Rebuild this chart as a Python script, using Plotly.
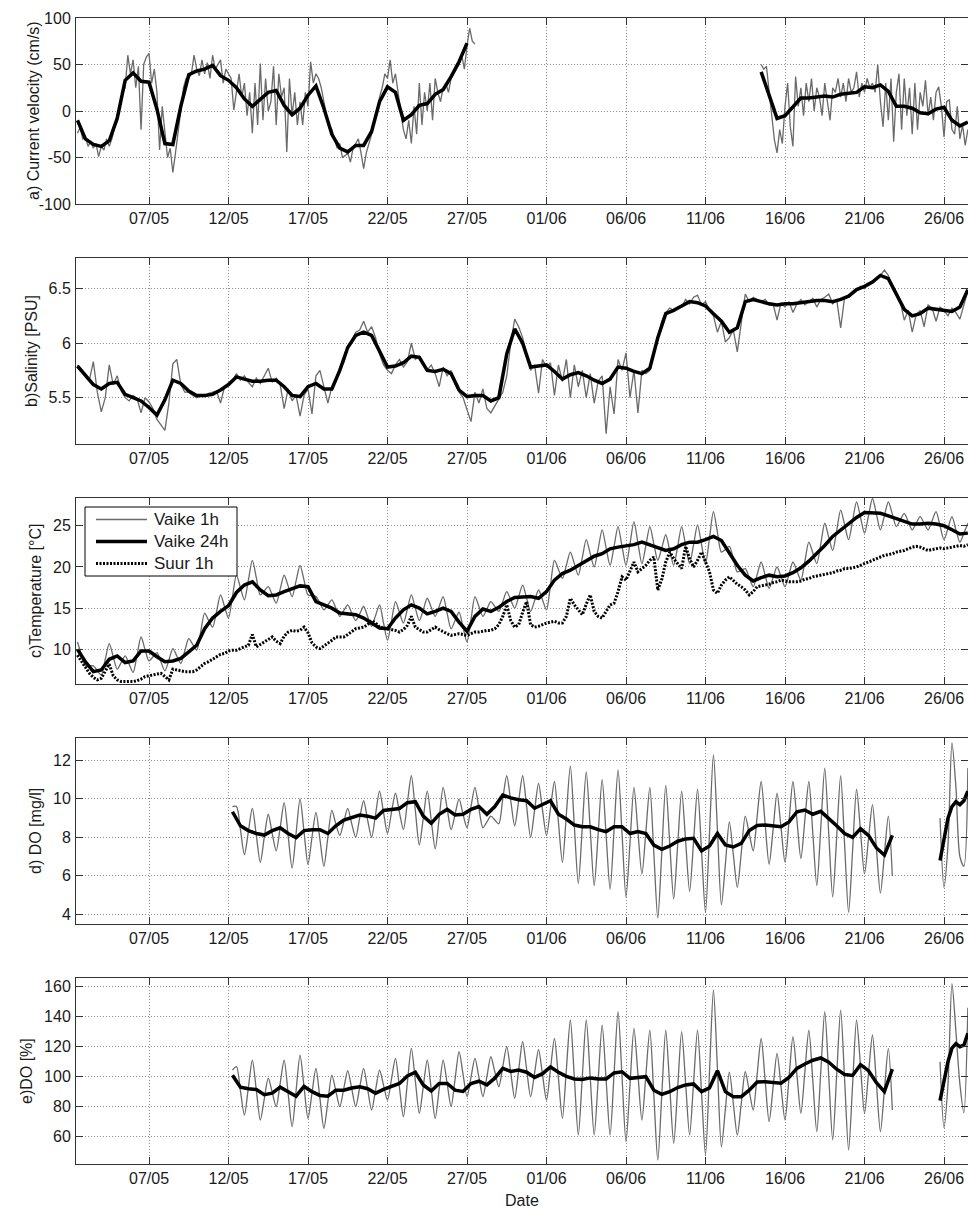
import pandas as pd
import plotly.graph_objects as go

# ---------------------------------------------------------------------------
# Shared time axis
# ---------------------------------------------------------------------------
x_range = ['2013-05-02 09:49', '2013-06-27 12:13']
tick_dates = ['2013-05-07', '2013-05-12', '2013-05-17', '2013-05-22', '2013-05-27',
              '2013-06-01', '2013-06-06', '2013-06-11', '2013-06-16', '2013-06-21',
              '2013-06-26']
tick_labels = ['07/05', '12/05', '17/05', '22/05', '27/05', '01/06', '06/06',
               '11/06', '16/06', '21/06', '26/06']

# ---------------------------------------------------------------------------
# a) Current velocity (cm/s) -- hourly record sampled every 4 h, daily mean every 12 h
# ---------------------------------------------------------------------------
cur_1h_may_start = '2013-05-02 12:00'
cur_1h_may = [
    -24, -18, -30, -28, -38, -33,
    -40, -35, -49, -38, -42, -30,
    -38, -30, -18, -8, 8, 20,
    25, 60, 40, 55, 25, 48,
    -20, 50, 58, 62, 30, 45,
    20, -42, 5, -25, -50, -40,
    -66, -45, -25, 0, 25, 35,
    35, 40, 60, 45, 38, 55,
    40, 52, 35, 60, 45, 50,
    55, 30, 45, 40, 35, 1,
    20, 40, 15, 30, -5, 20,
    -24, 30, -15, 51, -10, 35,
    0, 10, 48, -15, 40, 15,
    25, -44, 35, -5, 20, -15,
    10, -15, 20, 5, 53, 30,
    40, 35, 25, 10, -5, -15,
    -20, -30, -40, -35, -50, -48,
    -45, -55, -40, -35, -30, -45,
    -62, -45, -35, -25, -10, 0,
    15, 25, 40, 35, 55, 30,
    40, 20, 5, -20, -30, -10,
    -35, 5, -25, 30, -15, 20,
    0, 30, -10, 35, 20, 10,
    25, 30, 20, 35, 40, 45,
    50, 60, 45, 70, 89, 75,
    72,
]
cur_1h_jun_start = '2013-06-14 12:00'
cur_1h_jun = [
    50, 45, 48, 20, -10, -31,
    -45, -20, -35, 5, 30, -17,
    -38, 37, 5, 25, -5, 30,
    10, 35, 0, 25, 15, -5,
    30, 10, -10, 25, 20, 35,
    15, 30, 10, 35, 20, 25,
    42, 15, 30, 20, 35, 25,
    30, 20, 50, 10, -17, 30,
    -10, 35, -33, 20, 40, -20,
    35, -5, 25, -25, 30, -20,
    20, 5, 33, -5, 15, -10,
    20, 26, 5, -28, 10, 12,
    -20, -25, 5, -30, -15, -37,
    -20,
]
cur_24h_may = [-10, -30, -36, -38, -32, -8, 33, 41, 32, 31, 2, -35, -36, 5, 39,
               43, 45, 49, 38, 33, 25, 13, 5, 12, 20, 22, 6, -4, 3, 17, 27, 3,
               -25, -40, -44, -37, -37, -22, 10, 26, 20, -10, -4, 6, 8, 18, 23,
               37, 53, 73]
cur_24h_jun = [42, 17, -8, -5, 4, 14, 14, 15, 16, 15, 18, 19, 20, 26, 25, 28, 21,
               5, 5, 3, -2, -3, 2, 4, -10, -16, -12]

# ---------------------------------------------------------------------------
# b) Salinity [PSU] -- hourly record every 6 h, daily mean every 12 h
# ---------------------------------------------------------------------------
full_start = '2013-05-02 12:00'
sal_1h = [
    5.80, 5.74, 5.70, 5.66, 5.83, 5.55, 5.37, 5.50, 5.80, 5.62, 5.70, 5.56,
    5.50, 5.47, 5.52, 5.49, 5.36, 5.50, 5.46, 5.40, 5.30, 5.25, 5.20, 5.45,
    5.81, 5.85, 5.62, 5.55, 5.55, 5.52, 5.50, 5.52, 5.51, 5.54, 5.55, 5.56,
    5.45, 5.60, 5.62, 5.65, 5.72, 5.66, 5.70, 5.64, 5.60, 5.68, 5.63, 5.70,
    5.77, 5.64, 5.68, 5.62, 5.40, 5.58, 5.47, 5.52, 5.33, 5.52, 5.58, 5.35,
    5.70, 5.75, 5.60, 5.45, 5.60, 5.65, 5.78, 5.82, 5.95, 6.02, 6.10, 6.12,
    6.20, 6.10, 6.15, 6.05, 5.90, 5.80, 5.75, 5.72, 5.80, 5.85, 5.78, 5.83,
    6.00, 5.85, 5.88, 5.82, 5.75, 5.80, 5.72, 5.60, 5.78, 5.70, 5.75, 5.62,
    5.55, 5.50, 5.40, 5.28, 5.55, 5.45, 5.58, 5.40, 5.36, 5.42, 5.48, 5.55,
    5.70, 6.00, 6.22, 6.15, 6.05, 5.90, 5.75, 5.80, 5.54, 5.85, 5.78, 5.82,
    5.52, 5.80, 5.65, 5.85, 5.50, 5.80, 5.60, 5.75, 5.50, 5.72, 5.45, 5.65,
    5.70, 5.17, 5.60, 5.35, 5.85, 5.75, 5.91, 5.50, 5.75, 5.36, 5.75, 5.72,
    5.75, 5.90, 6.06, 6.20, 6.28, 6.32, 6.30, 6.33, 6.33, 6.40, 6.36, 6.42,
    6.44, 6.35, 6.38, 6.30, 6.25, 6.10, 6.20, 6.01, 6.05, 6.12, 5.92, 6.20,
    6.45, 6.38, 6.42, 6.40, 6.38, 6.40, 6.35, 6.36, 6.21, 6.37, 6.33, 6.38,
    6.28, 6.36, 6.40, 6.35, 6.38, 6.41, 6.33, 6.40, 6.42, 6.45, 6.36, 6.40,
    6.14, 6.42, 6.43, 6.45, 6.48, 6.52, 6.50, 6.55, 6.56, 6.60, 6.62, 6.67,
    6.62, 6.50, 6.45, 6.38, 6.21, 6.30, 6.10, 6.26, 6.30, 6.15, 6.35, 6.32,
    6.20, 6.33, 6.30, 6.25, 6.32, 6.28, 6.22, 6.35, 6.48,
]
sal_24h = [
    5.79, 5.70, 5.62, 5.58, 5.63, 5.64, 5.53, 5.50, 5.47, 5.41, 5.34, 5.48,
    5.66, 5.63, 5.56, 5.52, 5.52, 5.53, 5.57, 5.62, 5.69, 5.67, 5.65, 5.65,
    5.66, 5.66, 5.60, 5.52, 5.51, 5.60, 5.63, 5.58, 5.58, 5.75, 5.96, 6.07,
    6.10, 6.07, 5.92, 5.78, 5.79, 5.82, 5.88, 5.87, 5.75, 5.74, 5.76, 5.72,
    5.57, 5.51, 5.52, 5.52, 5.47, 5.50, 5.90, 6.13, 6.00, 5.78, 5.79, 5.80,
    5.74, 5.67, 5.71, 5.73, 5.70, 5.66, 5.63, 5.67, 5.78, 5.77, 5.74, 5.72,
    5.77, 6.05, 6.27, 6.30, 6.34, 6.38, 6.37, 6.34, 6.27, 6.20, 6.10, 6.14,
    6.38, 6.40, 6.38, 6.36, 6.35, 6.36, 6.36, 6.37, 6.38, 6.39, 6.39, 6.38,
    6.40, 6.43, 6.49, 6.52, 6.56, 6.62, 6.59, 6.45, 6.31, 6.25, 6.27, 6.32,
    6.31, 6.30, 6.29, 6.33, 6.49,
]

# ---------------------------------------------------------------------------
# c) Temperature [°C]
# ---------------------------------------------------------------------------
vaike_1h = [
    10.9, 9.4, 8.0, 8.0, 8.0, 7.4, 6.9, 8.8, 10.7, 9.1, 7.6, 8.4,
    9.2, 8.2, 7.2, 9.3, 11.5, 10.0, 8.6, 9.1, 9.6, 8.5, 7.4, 8.7,
    10.1, 9.2, 8.3, 9.8, 11.3, 10.6, 9.9, 12.1, 14.4, 13.5, 12.7, 14.6,
    16.6, 15.2, 13.8, 16.4, 19.0, 17.5, 16.0, 18.4, 20.8, 18.7, 16.6, 17.1,
    17.6, 16.6, 15.6, 17.3, 19.0, 17.7, 16.4, 18.3, 20.2, 18.4, 16.6, 16.5,
    16.4, 15.6, 14.8, 15.4, 16.0, 15.0, 14.0, 14.7, 15.4, 14.4, 13.5, 14.3,
    15.2, 14.0, 12.8, 14.1, 15.4, 13.2, 11.1, 13.4, 15.8, 14.5, 13.2, 14.9,
    16.6, 15.0, 13.5, 14.8, 16.2, 15.1, 14.0, 15.2, 16.4, 14.4, 12.5, 13.5,
    14.5, 12.7, 10.9, 13.6, 16.4, 15.2, 14.0, 14.9, 15.8, 15.2, 14.6, 15.8,
    17.0, 16.0, 15.0, 16.4, 17.8, 16.2, 14.6, 15.9, 17.2, 16.0, 14.8, 17.8,
    20.8, 19.7, 18.6, 20.2, 21.8, 20.4, 19.0, 21.1, 23.3, 21.6, 20.0, 22.2,
    24.5, 22.3, 20.2, 22.5, 24.9, 22.5, 20.2, 22.8, 25.5, 22.9, 20.4, 22.6,
    24.9, 22.8, 20.8, 22.3, 23.9, 22.0, 20.2, 22.5, 24.9, 22.6, 20.4, 22.7,
    25.1, 22.7, 20.4, 23.5, 26.7, 24.2, 21.8, 22.1, 22.5, 21.0, 19.4, 19.6,
    19.8, 18.7, 17.6, 19.1, 20.6, 19.0, 17.4, 18.7, 20.0, 18.8, 17.6, 19.1,
    20.6, 19.5, 18.4, 20.7, 23.0, 21.7, 20.4, 22.8, 25.3, 23.6, 22.0, 24.4,
    26.9, 25.1, 23.3, 25.6, 27.9, 26.0, 24.1, 26.2, 28.3, 26.4, 24.5, 26.2,
    27.9, 26.4, 24.9, 25.7, 26.5, 25.5, 24.5, 25.3, 26.1, 25.3, 24.5, 25.6,
    26.7, 25.0, 23.3, 24.7, 26.1, 24.5, 23.0, 24.1, 25.3,
]
vaike_24h = [
    10.0, 8.5, 7.3, 7.5, 8.8, 9.2, 8.4, 8.6, 9.8, 9.8, 9.1, 8.5,
    8.6, 8.9, 9.7, 10.5, 12.5, 13.8, 14.6, 15.3, 16.9, 17.8, 18.2, 17.2,
    16.5, 16.6, 17.0, 17.4, 17.7, 17.6, 15.8, 15.4, 15.0, 14.4, 14.3, 14.2,
    13.8, 13.2, 12.6, 12.5, 13.8, 14.8, 15.4, 15.0, 14.3, 14.6, 15.0, 14.6,
    13.3, 12.2, 14.0, 14.9, 14.6, 15.1, 15.8, 16.3, 16.4, 16.4, 16.2, 17.0,
    18.4, 19.2, 19.6, 20.2, 20.8, 21.3, 21.6, 22.2, 22.4, 22.5, 22.7, 23.0,
    22.7, 22.4, 22.0, 22.2, 22.7, 23.0, 23.0, 23.3, 23.7, 23.2, 21.6, 20.2,
    19.0, 18.3, 18.7, 19.0, 18.8, 18.9, 19.3, 19.9, 20.7, 21.6, 22.6, 23.7,
    24.5, 25.3, 26.0, 26.6, 26.6, 26.5, 26.2, 25.9, 25.6, 25.2, 25.2, 25.3,
    25.2, 25.0, 24.5, 24.0, 24.1,
]
suur_1h = [
    9.3, 8.6, 7.8, 7.1, 6.6, 6.3, 6.5, 7.3, 8.2, 6.8, 6.3, 6.1,
    6.1, 6.1, 6.1, 6.2, 6.4, 6.7, 6.8, 6.9, 7.0, 7.1, 6.7, 6.3,
    7.6, 7.5, 7.4, 7.3, 7.3, 7.3, 7.5, 7.9, 8.3, 8.5, 8.8, 9.2,
    9.4, 9.5, 9.8, 9.9, 9.9, 10.1, 10.3, 10.5, 11.8, 10.3, 10.6, 10.9,
    11.2, 11.5, 11.0, 10.7, 11.6, 12.1, 12.3, 12.2, 12.3, 12.7, 12.0, 10.8,
    10.3, 10.1, 10.4, 10.7, 11.1, 11.5, 11.5, 11.5, 11.8, 12.1, 12.5, 12.6,
    12.7, 13.0, 13.5, 13.2, 12.7, 12.6, 12.5, 12.4, 12.3, 12.1, 12.4, 12.9,
    14.0, 12.7, 12.4, 12.1, 12.1, 12.4, 12.7, 12.4, 12.1, 11.9, 11.7, 11.8,
    11.9, 11.8, 11.7, 11.9, 12.1, 12.1, 12.2, 12.3, 12.3, 12.5, 13.0, 14.0,
    15.4, 13.5, 12.7, 13.0, 14.5, 15.8, 13.0, 12.7, 12.8, 13.0, 13.2, 13.3,
    13.4, 13.2, 13.2, 14.0, 16.2, 15.4, 14.8, 14.2, 15.5, 16.6, 14.6, 14.0,
    13.8, 14.6, 15.4, 15.6, 17.0, 18.8, 18.4, 19.5, 20.6, 19.4, 19.8, 20.2,
    20.8, 21.2, 17.2, 18.5, 20.6, 21.8, 21.0, 20.4, 19.8, 22.5, 21.0, 20.0,
    20.8, 21.8, 20.5, 19.4, 17.2, 16.8, 17.8, 18.4, 18.8, 18.3, 17.9, 17.6,
    17.2, 16.6, 17.0, 17.6, 17.7, 17.8, 17.9, 18.1, 18.2, 18.4, 18.3, 18.2,
    18.2, 18.2, 18.3, 18.5, 18.6, 18.8, 18.9, 19.0, 19.1, 19.2, 19.3, 19.5,
    19.6, 19.8, 19.8, 19.9, 20.0, 20.2, 20.4, 20.6, 20.8, 21.0, 21.2, 21.4,
    21.5, 21.6, 21.8, 21.9, 22.0, 22.2, 22.4, 22.5, 22.4, 22.2, 22.0, 22.1,
    22.2, 22.3, 22.2, 22.3, 22.4, 22.5, 22.6, 22.5, 22.7,
]

# ---------------------------------------------------------------------------
# d) DO [mg/l] and e) DO [%] -- two deployments
# ---------------------------------------------------------------------------
do_start = '2013-05-12 06:00'
do_late_start = '2013-06-25 18:00'
do_mg_1h = [
    9.6,
    9.6, 8.4, 7.1, 8.3, 9.5, 8.1, 6.7, 8.0, 9.2, 8.2, 7.3, 8.5,
    9.8, 8.1, 6.4, 8.2, 10.0, 8.3, 6.6, 8.0, 9.3, 7.9, 6.5, 8.0,
    9.4, 8.7, 8.1, 8.8, 9.5, 8.7, 8.0, 9.0, 9.9, 8.9, 8.0, 9.2,
    10.4, 9.3, 8.2, 9.3, 10.3, 9.3, 8.4, 9.8, 11.2, 9.4, 7.6, 9.0,
    10.4, 8.9, 7.4, 9.0, 10.6, 9.5, 8.4, 9.2, 10.0, 9.2, 8.5, 9.6,
    10.6, 9.5, 8.5, 8.8, 9.1, 8.9, 8.7, 10.0, 11.2, 9.9, 8.6, 9.9,
    11.2, 9.6, 8.0, 9.4, 10.8, 9.4, 8.1, 9.5, 10.9, 8.8, 6.7, 9.2,
    11.7, 8.6, 5.6, 8.5, 11.4, 8.4, 5.5, 8.2, 11.0, 8.1, 5.3, 8.4,
    11.5, 8.2, 4.9, 7.7, 10.6, 8.3, 6.1, 8.3, 10.6, 7.2, 3.8, 7.2,
    10.7, 7.7, 4.8, 7.6, 10.4, 7.8, 5.2, 7.8, 10.5, 7.3, 4.1, 8.2,
    12.3, 8.4, 4.5, 6.6, 8.8, 7.1, 5.4, 7.2, 9.1, 8.2, 7.3, 9.1,
    10.9, 8.7, 6.6, 8.4, 10.3, 8.5, 6.7, 8.8, 10.9, 8.9, 6.9, 8.9,
    10.9, 8.2, 5.5, 8.5, 11.6, 8.2, 4.9, 8.0, 11.2, 7.6, 4.1, 7.3,
    10.5, 8.3, 6.1, 7.9, 9.7, 7.4, 5.1, 7.1, 9.1, 6.0,
]
do_mg_24h = [
    9.33, 8.6, 8.35, 8.2, 8.12, 8.35, 8.5, 8.2, 7.98, 8.35, 8.4, 8.4,
    8.2, 8.6, 8.9, 9.05, 9.16, 9.1, 9.0, 9.4, 9.45, 9.5, 9.8, 9.85,
    9.1, 8.73, 9.2, 9.45, 9.16, 9.2, 9.45, 9.6, 9.2, 9.6, 10.2, 10.05,
    9.95, 9.9, 9.51, 9.7, 9.9, 9.2, 8.95, 8.64, 8.55, 8.55, 8.4, 8.3,
    8.55, 8.55, 8.2, 8.3, 8.2, 7.6, 7.38, 7.55, 7.8, 7.92, 7.95, 7.3,
    7.55, 8.2, 7.6, 7.5, 7.69, 8.35, 8.62, 8.64, 8.6, 8.55, 8.8, 9.33,
    9.42, 9.2, 9.35, 9.0, 8.6, 8.2, 8.0, 8.45, 8.1, 7.45, 7.08, 8.1,
]
do_mg_1h_late = [9.0, 5.4, 7.6, 12.9, 10.6, 7.0, 6.5, 11.6]
do_mg_24h_late = [6.8, 7.9, 9.0, 9.6, 9.85, 9.7, 9.9, 10.4]

do_pct_1h = [
    104.4,
    106.7, 90.5, 74.4, 92.8, 111.1, 91.1, 71.1, 85.1, 99.0, 89.5, 80.0, 95.6,
    111.1, 88.9, 66.7, 90.6, 114.4, 93.3, 72.2, 88.9, 105.6, 85.6, 65.6, 83.4,
    101.1, 90.6, 80.0, 92.0, 104.0, 92.0, 80.0, 92.8, 105.6, 91.7, 77.8, 91.1,
    104.4, 94.4, 84.4, 98.3, 112.2, 92.8, 73.3, 96.1, 118.9, 97.3, 75.6, 93.4,
    111.1, 91.7, 72.2, 91.7, 111.1, 95.6, 80.0, 98.4, 116.7, 101.7, 86.7, 99.5,
    112.2, 99.5, 86.7, 100.0, 113.3, 103.3, 93.3, 106.7, 120.0, 102.8, 85.6, 104.5,
    123.3, 105.0, 86.7, 102.4, 118.0, 101.2, 84.4, 105.0, 125.6, 98.9, 72.2, 105.0,
    137.8, 99.5, 61.1, 99.5, 137.8, 99.5, 61.1, 97.8, 134.4, 97.8, 61.1, 102.2,
    143.3, 100.0, 56.7, 94.5, 132.2, 101.7, 71.1, 101.1, 131.1, 87.8, 44.4, 87.8,
    131.1, 93.4, 55.6, 92.8, 130.0, 95.6, 61.1, 96.1, 131.1, 89.5, 47.8, 102.8,
    157.8, 105.6, 53.3, 78.2, 103.0, 82.1, 61.1, 82.2, 103.3, 90.6, 77.8, 101.7,
    125.6, 97.8, 70.0, 92.8, 115.6, 93.4, 71.1, 98.9, 126.7, 101.2, 75.6, 103.4,
    131.1, 97.2, 63.3, 103.3, 143.3, 100.6, 57.8, 101.1, 144.4, 97.8, 51.1, 94.5,
    137.8, 106.7, 75.6, 101.7, 127.8, 95.6, 63.3, 91.1, 118.9, 77.8,
]
do_pct_24h = [
    101, 93, 92, 91.5, 88, 89, 93, 90, 87, 93.5, 90, 87.5,
    87, 91, 91, 92.5, 93.3, 92, 89, 91.5, 93.8, 95.5, 100.5, 103,
    94.5, 90.5, 95.5, 95.5, 91, 90.2, 95.5, 97, 94.5, 99, 105.5, 103.5,
    104.5, 103, 99.5, 102, 106.5, 103, 100.2, 98.5, 98.2, 99.2, 98.5, 98.5,
    102.5, 103.3, 98.9, 99.5, 100, 91, 88.2, 90, 92.8, 94.5, 95.2, 90,
    92.5, 104, 90, 86.7, 86.7, 91, 96.5, 96.7, 96.4, 95.7, 99.5, 105.5,
    108.5, 111, 112.5, 109.6, 105, 101.5, 100.8, 108, 104, 96, 90, 105,
]
do_pct_1h_late = [110, 66, 95, 162, 130, 95, 76, 146]
do_pct_24h_late = [84, 96, 110, 119, 122, 120, 121, 129]

# ---------------------------------------------------------------------------
# Panel set-up
# ---------------------------------------------------------------------------
panel_titles = ['a) Current velocity (cm/s)', 'b)Salinity [PSU]', 'c)Temperature [°C]',
                'd) DO [mg/l]', 'e)DO [%]']
panel_ranges = [[-100, 100], [5.075, 6.78], [5.8, 28.36], [3.5, 13.16], [41.8, 165.8]]
panel_ticks = [[-100, -50, 0, 50, 100], [5.5, 6, 6.5], [10, 15, 20, 25],
               [4, 6, 8, 10, 12], [60, 80, 100, 120, 140, 160]]
panel_tick_text = [['-100', '-50', '0', '50', '100'], ['5.5', '6', '6.5'],
                   ['10', '15', '20', '25'], ['4', '6', '8', '10', '12'],
                   ['60', '80', '100', '120', '140', '160']]
title_px = [33, 31, 35, 35, 26]

legend_names = ['Vaike 1h', 'Vaike 24h', 'Suur 1h']

W, H = 968, 1210
M_L, M_R, M_T, M_B = 76, 0, 18, 46
PANEL_TOP_PX = [18, 258, 498, 738, 978]
PANEL_H = 186
plot_h = H - M_T - M_B
plot_w = W - M_L - M_R


def px_x(px):
    return (px - M_L) / plot_w


def px_y(py):
    return (H - M_B - py) / plot_h


FONT = 'Liberation Sans, Arial, Helvetica, sans-serif'
TXT = '#1a1a1a'
GRAY = dict(color='#6a6a6a', width=1.3)
GRAY_SMOOTH = dict(color='#6a6a6a', width=1.3, shape='spline', smoothing=0.8)
BLACK = dict(color='#000000', width=3.5)
DOTTED = dict(color='#000000', width=3, dash='2px,1.5px')

fig = go.Figure()


def add_series(n, values, start, step, line):
    fig.add_trace(go.Scatter(
        x=pd.date_range(start, periods=len(values), freq=step),
        y=values, mode='lines', line=line, showlegend=False,
        xaxis='x' if n == 1 else f'x{n}', yaxis='y' if n == 1 else f'y{n}',
        hoverinfo='skip'))


# a) current velocity
add_series(1, cur_1h_may, cur_1h_may_start, '4h', GRAY)
add_series(1, cur_1h_jun, cur_1h_jun_start, '4h', GRAY)
add_series(1, cur_24h_may, cur_1h_may_start, '12h', BLACK)
add_series(1, cur_24h_jun, cur_1h_jun_start, '12h', BLACK)
# b) salinity
add_series(2, sal_1h, full_start, '6h', GRAY)
add_series(2, sal_24h, full_start, '12h', BLACK)
# c) temperature
add_series(3, vaike_1h, full_start, '6h', GRAY_SMOOTH)
add_series(3, vaike_24h, full_start, '12h', BLACK)
add_series(3, suur_1h, full_start, '6h', DOTTED)
# d) DO mg/l
add_series(4, do_mg_1h, do_start, '6h', GRAY_SMOOTH)
add_series(4, do_mg_1h_late, do_late_start, '6h', GRAY_SMOOTH)
add_series(4, do_mg_24h, do_start, '12h', BLACK)
add_series(4, do_mg_24h_late, do_late_start, '6h', BLACK)
# e) DO %
add_series(5, do_pct_1h, do_start, '6h', GRAY_SMOOTH)
add_series(5, do_pct_1h_late, do_late_start, '6h', GRAY_SMOOTH)
add_series(5, do_pct_24h, do_start, '12h', BLACK)
add_series(5, do_pct_24h_late, do_late_start, '6h', BLACK)

axis_common = dict(showline=True, linecolor='#333333', linewidth=1, mirror='ticks',
                   ticks='inside', ticklen=7, tickcolor='#333333',
                   showgrid=True, gridcolor='#8f8f8f', gridwidth=1, griddash='1px,2px',
                   zeroline=False, tickfont=dict(family=FONT, size=16, color=TXT))

layout = {}
annotations = []
shapes = []
for i in range(5):
    n = i + 1
    sfx = '' if n == 1 else str(n)
    top = px_y(PANEL_TOP_PX[i])
    bottom = px_y(PANEL_TOP_PX[i] + PANEL_H)
    layout['xaxis' + sfx] = dict(axis_common, domain=[0, 1], anchor='y' + sfx,
                                 type='date', range=x_range,
                                 tickvals=tick_dates, ticktext=tick_labels)
    layout['yaxis' + sfx] = dict(axis_common, domain=[bottom, top], anchor='x' + sfx,
                                 range=panel_ranges[i], tickvals=panel_ticks[i],
                                 ticktext=panel_tick_text[i], ticklabelstandoff=1)
    annotations.append(dict(text=panel_titles[i], textangle=-90, showarrow=False,
                            xref='paper', yref='paper',
                            x=px_x(title_px[i]), y=(top + bottom) / 2,
                            xanchor='center', yanchor='middle',
                            font=dict(family=FONT, size=16, color=TXT)))

annotations.append(dict(text='Date', showarrow=False, xref='paper', yref='paper',
                        x=0.5, y=px_y(1200), xanchor='center', yanchor='middle',
                        font=dict(family=FONT, size=16, color=TXT)))

# Legend box for the temperature panel
shapes.append(dict(type='rect', xref='paper', yref='paper',
                   x0=px_x(85), x1=px_x(237), y0=px_y(576), y1=px_y(507),
                   line=dict(color='#000000', width=1), fillcolor='white', layer='above'))
legend_rows = [519.5, 541.5, 563.5]
legend_styles = [GRAY, BLACK, DOTTED]
for name, row, style in zip(legend_names, legend_rows, legend_styles):
    shapes.append(dict(type='line', xref='paper', yref='paper',
                       x0=px_x(96), x1=px_x(147), y0=px_y(row), y1=px_y(row),
                       line=dict(color=style['color'], width=style['width'],
                                 dash=style.get('dash', 'solid')), layer='above'))
    annotations.append(dict(text=name, showarrow=False, xref='paper', yref='paper',
                            x=px_x(152), y=px_y(row), xanchor='left', yanchor='middle',
                            font=dict(family=FONT, size=17, color=TXT)))

fig.update_layout(
    **layout,
    annotations=annotations,
    shapes=shapes,
    width=W, height=H,
    margin=dict(l=M_L, r=M_R, t=M_T, b=M_B),
    paper_bgcolor='white', plot_bgcolor='white',
    font=dict(family=FONT, size=16, color=TXT),
    showlegend=False,
)

fig.write_html('out.html')
